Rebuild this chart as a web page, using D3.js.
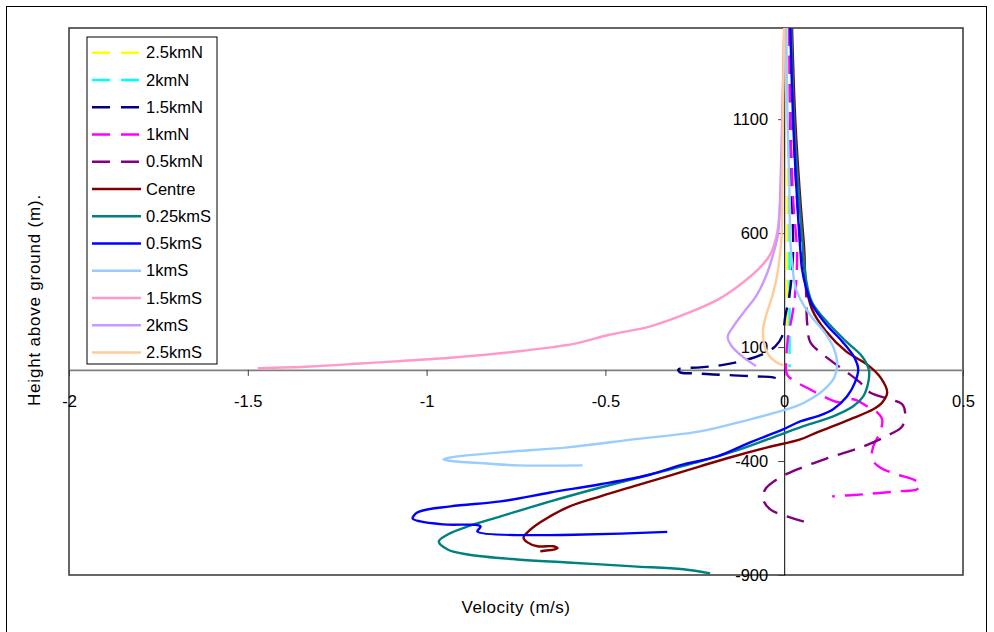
<!DOCTYPE html>
<html>
<head>
<meta charset="utf-8">
<script src="https://cdn.jsdelivr.net/npm/d3@7/dist/d3.min.js"></script>
<style>
  html, body { margin: 0; padding: 0; background: #fff; }
  svg text { font-family: "Liberation Sans", Arial, sans-serif; fill: #000; }
</style>
</head>
<body>
<svg id="chart" width="994" height="632"></svg>
<script>
// Velocity profiles: each point is [velocity (m/s), height above ground (m)]
const n25 = [[0.012,1500],[0.012,1100],[0.010,750],[0.009,530],[0.009,300],[0.009,100],[0.009,15]];
const n20 = [[0.016,1500],[0.016,1100],[0.015,750],[0.015,530],[0.015,300],[0.015,100],[0.015,12]];
const n15 = [[0.017,1500],[0.017,1095],[0.022,748],[0.025,529],[0.020,397],[0.014,322],[0.003,235],
             [-0.006,147],[-0.025,103],[-0.061,68],[-0.123,37],[-0.179,20],[-0.235,11],[-0.296,2],
             [-0.291,-11],[-0.254,-15],[-0.198,-20],[-0.142,-24],[-0.075,-29],[-0.031,-33],[-0.017,-42],[-0.006,-64]];
const n10 = [[0.014,1500],[0.017,1095],[0.025,748],[0.036,507],[0.031,340],[0.022,235],[0.011,147],
             [0.006,55],[0.008,-20],[0.036,-55],[0.073,-86],[0.109,-116],[0.156,-143],[0.193,-129],
             [0.232,-160],[0.260,-186],[0.274,-217],[0.268,-274],[0.249,-336],[0.246,-393],[0.268,-428],
             [0.316,-459],[0.360,-480],[0.380,-502],[0.372,-524],[0.316,-533],[0.221,-546],[0.134,-555]];
const n05 = [[0.020,1500],[0.025,1095],[0.036,748],[0.050,529],[0.061,353],[0.064,208],[0.073,121],
             [0.101,77],[0.137,33],[0.176,-11],[0.212,-55],[0.240,-99],[0.296,-129],[0.330,-151],
             [0.338,-186],[0.330,-248],[0.296,-283],[0.221,-336],[0.128,-384],[0.036,-437],[-0.020,-480],
             [-0.053,-524],[-0.059,-568],[-0.039,-612],[0.008,-643],[0.053,-665],[0.081,-674]];
const centre = [[0.022,1500],[0.031,1095],[0.045,748],[0.056,529],[0.061,375],[0.078,265],[0.117,169],
             [0.173,81],[0.235,20],[0.271,-37],[0.288,-99],[0.274,-143],[0.249,-173],[0.184,-217],
             [0.092,-274],[0.045,-305],[-0.047,-340],[-0.142,-380],[-0.235,-423],[-0.327,-467],
             [-0.422,-511],[-0.514,-555],[-0.606,-603],[-0.682,-669],[-0.718,-713],[-0.729,-735],
             [-0.718,-757],[-0.690,-774],[-0.645,-774],[-0.634,-783],[-0.682,-796]];
const s025 = [[0.020,1500],[0.028,1095],[0.042,748],[0.053,529],[0.061,397],[0.078,296],[0.126,200],
             [0.173,125],[0.218,59],[0.237,-2],[0.235,-55],[0.221,-116],[0.193,-160],[0.137,-204],
             [0.045,-252],[-0.047,-305],[-0.142,-358],[-0.235,-401],[-0.374,-459],[-0.514,-516],
             [-0.654,-577],[-0.793,-643],[-0.885,-687],[-0.941,-722],[-0.966,-753],[-0.941,-788],
             [-0.885,-810],[-0.746,-832],[-0.606,-845],[-0.422,-862],[-0.282,-875],[-0.207,-893]];
const s05 = [[0.017,1500],[0.025,1095],[0.036,748],[0.045,529],[0.050,441],[0.061,362],[0.078,287],
             [0.117,200],[0.162,125],[0.196,55],[0.207,2],[0.198,-55],[0.176,-116],[0.137,-173],
             [0.092,-204],[0.045,-226],[-0.003,-261],[-0.095,-318],[-0.187,-380],[-0.282,-415],
             [-0.374,-459],[-0.514,-502],[-0.654,-538],[-0.793,-577],[-0.933,-599],[-1.025,-625],
             [-1.039,-652],[-1.017,-665],[-0.953,-678],[-0.849,-687],[-0.858,-709],[-0.327,-711]];
const s10 = [[0.006,1500],[0.008,1187],[0.014,836],[0.017,572],[0.022,472],[0.031,366],[0.050,296],
             [0.078,230],[0.115,160],[0.140,90],[0.148,33],[0.140,-33],[0.109,-90],[0.073,-129],
             [0.039,-156],[-0.003,-178],[-0.095,-217],[-0.235,-270],[-0.422,-305],[-0.606,-340],
             [-0.793,-362],[-0.933,-384],[-0.953,-393],[-0.925,-401],[-0.841,-410],[-0.746,-419],[-0.564,-419]];
const s15 = [[0.000,1500],[-0.006,1064],[-0.008,844],[-0.020,599],[-0.039,507],[-0.070,445],[-0.128,368],
             [-0.187,307],[-0.265,252],[-0.374,191],[-0.492,153],[-0.589,114],[-0.735,83],[-0.933,53],
             [-1.176,29],[-1.324,15],[-1.472,7]];
const s20 = [[0.000,1500],[-0.004,1187],[-0.010,836],[-0.017,599],[-0.031,507],[-0.050,415],[-0.079,322],
             [-0.109,261],[-0.138,200],[-0.158,145],[-0.148,107],[-0.118,60],[-0.079,17]];
const s25 = [[0.000,1500],[-0.003,1187],[-0.005,836],[-0.008,572],[-0.014,476],[-0.022,397],[-0.036,309],
             [-0.050,243],[-0.059,178],[-0.056,112],[-0.045,68],[-0.025,37],[-0.003,20]];

const seriesNames  = ["2.5kmN","2kmN","1.5kmN","1kmN","0.5kmN","Centre","0.25kmS","0.5kmS","1kmS","1.5kmS","2kmS","2.5kmS"];
const seriesData   = [n25, n20, n15, n10, n05, centre, s025, s05, s10, s15, s20, s25];
const seriesColors = ["#FFFF00","#00FFFF","#000080","#FF00FF","#800080","#800000","#008080","#0000FF","#99CCFF","#FF99CC","#CC99FF","#FFCC99"];
const seriesDashed = [true,true,true,true,true,false,false,false,false,false,false,false];

const xTicks = [-2, -1.5, -1, -0.5, 0, 0.5];
const yTicks = [-900, -400, 100, 600, 1100];

const svg = d3.select("#chart");
const plot = { left: 69, right: 963, top: 28, bottom: 575 };

const x = d3.scaleLinear().domain([-2, 0.5]).range([plot.left, plot.right]);
const y = d3.scaleLinear().domain([-900, 1500]).range([plot.bottom, plot.top]);

// outer chart border
svg.append("rect").attr("x", 6.5).attr("y", 6.5).attr("width", 980).attr("height", 640)
  .attr("fill", "none").attr("stroke", "#000").attr("stroke-width", 1);

// plot area frame
svg.append("rect").attr("x", plot.left).attr("y", plot.top)
  .attr("width", plot.right - plot.left).attr("height", plot.bottom - plot.top)
  .attr("fill", "#fff").attr("stroke", "#404040").attr("stroke-width", 1.6);

// horizontal axis at zero height
const xAxis = svg.append("g").attr("transform", `translate(0,${y(0)})`)
  .call(d3.axisBottom(x).tickValues(xTicks).tickFormat(d => String(d))
        .tickSizeInner(6).tickSizeOuter(0).tickPadding(19));
xAxis.select(".domain").attr("stroke", "#808080").attr("stroke-width", 1.8);
xAxis.selectAll(".tick line").attr("stroke", "#404040");
xAxis.selectAll("text").attr("font-size", "16.5px").attr("fill", "#000");

// vertical axis at zero velocity
const yAxis = svg.append("g").attr("transform", `translate(${x(0)},0)`)
  .call(d3.axisLeft(y).tickValues(yTicks).tickFormat(d => String(d))
        .tickSizeInner(6).tickSizeOuter(0).tickPadding(10));
yAxis.select(".domain").attr("stroke", "#000").attr("stroke-width", 1);
yAxis.selectAll(".tick line").attr("stroke", "#404040");
yAxis.selectAll("text").attr("font-size", "16.5px").attr("fill", "#000");

// profile lines
const line = d3.line()
  .x(d => x(d[0]))
  .y(d => y(d[1]))
  .curve(d3.curveCatmullRom.alpha(0.5));

const lines = svg.append("g");
seriesData.forEach((data, i) => {
  lines.append("path")
    .attr("d", line(data))
    .attr("fill", "none")
    .attr("stroke", seriesColors[i])
    .attr("stroke-width", 2.4)
    .attr("stroke-linejoin", "round")
    .attr("stroke-dasharray", seriesDashed[i] ? "18,10" : null);
});

// legend
const legend = svg.append("g");
legend.append("rect").attr("x", 87).attr("y", 37).attr("width", 130).attr("height", 327)
  .attr("fill", "#fff").attr("stroke", "#000").attr("stroke-width", 1);
seriesNames.forEach((name, i) => {
  const cy = 52.7 + i * 27.25;
  legend.append("line").attr("x1", 92).attr("x2", 141).attr("y1", cy).attr("y2", cy)
    .attr("stroke", seriesColors[i]).attr("stroke-width", 2.4)
    .attr("stroke-dasharray", seriesDashed[i] ? "18,11" : null);
  legend.append("text").attr("x", 146).attr("y", cy).attr("dy", "0.35em")
    .attr("font-size", "16.5px").text(name);
});

// axis titles
svg.append("text").attr("x", 516).attr("y", 613).attr("text-anchor", "middle")
  .attr("font-size", "17px").attr("letter-spacing", "0.5px").text("Velocity (m/s)");
svg.append("text").attr("transform", "translate(40,300) rotate(-90)").attr("text-anchor", "middle")
  .attr("font-size", "17px").attr("letter-spacing", "0.8px").text("Height above ground (m).");
</script>
</body>
</html>
